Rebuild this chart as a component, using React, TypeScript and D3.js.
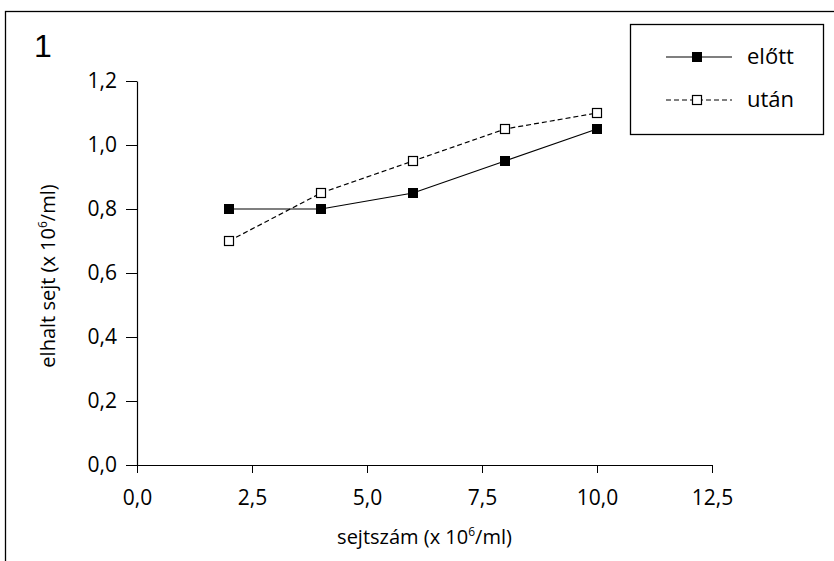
import React, { useEffect, useRef } from "react";
import * as d3 from "d3";

const xValues = [2, 4, 6, 8, 10];
const elottValues = [0.8, 0.8, 0.85, 0.95, 1.05];
const utanValues = [0.7, 0.85, 0.95, 1.05, 1.1];
const xTicks = [0, 2.5, 5, 7.5, 10, 12.5];
const yTicks = [0, 0.2, 0.4, 0.6, 0.8, 1.0, 1.2];
const seriesNames = ["előtt", "után"];

const W = 834;
const H = 561;
const FONT = "'Open Sans', 'Noto Sans', sans-serif";

export default function App() {
  const ref = useRef<SVGSVGElement>(null);
  useEffect(() => {
    const svg = d3.select(ref.current);
    svg.selectAll("*").remove();

    const x = d3.scaleLinear().domain([0, 12.5]).range([137, 712]);
    const y = d3.scaleLinear().domain([0, 1.2]).range([465, 81]);
    const fmt = (v: number) => d3.format(".1f")(v).replace(".", ",");

    // outer frame
    svg.append("rect").attr("x", 5.5).attr("y", 11.5).attr("width", 1000).attr("height", 1000)
      .attr("fill", "none").attr("stroke", "#000").attr("stroke-width", 1.3);

    svg.append("text").attr("x", 34).attr("y", 57).attr("font-size", 32)
      .attr("font-family", "'Liberation Sans', Arial, sans-serif").text("1");

    const xAxis = svg.append("g").attr("transform", `translate(0,${y(0)})`)
      .call(d3.axisBottom(x).tickValues(xTicks).tickFormat(fmt as any).tickSize(8).tickSizeOuter(0));
    const yAxis = svg.append("g").attr("transform", `translate(${x(0)},0)`)
      .call(d3.axisLeft(y).tickValues(yTicks).tickFormat(fmt as any).tickSize(11).tickSizeOuter(0));
    [xAxis, yAxis].forEach((g) => {
      g.select(".domain").attr("stroke", "#000").attr("stroke-width", 1.2);
      g.selectAll(".tick line").attr("stroke", "#000").attr("stroke-width", 1);
      g.selectAll(".tick text").attr("font-size", 21).attr("font-family", FONT).attr("fill", "#000");
    });
    xAxis.selectAll(".tick text").attr("y", 0).attr("dy", 40);
    yAxis.selectAll(".tick text").attr("dx", -6);

    // axis titles
    const xt = svg.append("text").attr("x", (x(0) + x(12.5)) / 2).attr("y", 544)
      .attr("text-anchor", "middle").attr("font-size", 20).attr("font-family", FONT);
    xt.append("tspan").text("sejtszám (x 10");
    xt.append("tspan").attr("font-size", 12).attr("dy", -8).text("6");
    xt.append("tspan").attr("dy", 8).text("/ml)");

    const yt = svg.append("text").attr("transform", `translate(55,${(y(0) + y(1.2)) / 2 + 3}) rotate(-90)`)
      .attr("text-anchor", "middle").attr("font-size", 20).attr("font-family", FONT);
    yt.append("tspan").text("elhalt sejt (x 10");
    yt.append("tspan").attr("font-size", 12).attr("dy", -8).text("6");
    yt.append("tspan").attr("dy", 8).text("/ml)");

    const line = d3.line<number>().x((_, i) => x(xValues[i])).y((d) => y(d));
    svg.append("path").datum(elottValues).attr("d", line as any).attr("fill", "none")
      .attr("stroke", "#000").attr("stroke-width", 1.2);
    svg.append("path").datum(utanValues).attr("d", line as any).attr("fill", "none")
      .attr("stroke", "#000").attr("stroke-width", 1.2).attr("stroke-dasharray", "5,3");

    const s = 10;
    svg.selectAll(".m1").data(elottValues).enter().append("rect")
      .attr("x", (_, i) => x(xValues[i]) - s / 2).attr("y", (d) => y(d) - s / 2)
      .attr("width", s).attr("height", s).attr("fill", "#000");
    svg.selectAll(".m2").data(utanValues).enter().append("rect")
      .attr("x", (_, i) => x(xValues[i]) - s / 2 + 0.5).attr("y", (d) => y(d) - s / 2 + 0.5)
      .attr("width", s - 1).attr("height", s - 1).attr("fill", "#fff").attr("stroke", "#000").attr("stroke-width", 1.2);

    // legend
    const lg = svg.append("g");
    lg.append("rect").attr("x", 630.5).attr("y", 24.5).attr("width", 193).attr("height", 110)
      .attr("fill", "#fff").attr("stroke", "#000").attr("stroke-width", 1.3);
    const rows = [57, 100];
    seriesNames.forEach((name, i) => {
      const yy = rows[i];
      lg.append("line").attr("x1", 666).attr("x2", 732).attr("y1", yy).attr("y2", yy)
        .attr("stroke", "#000").attr("stroke-width", 1.2)
        .attr("stroke-dasharray", i === 1 ? "5,3" : null);
      if (i === 0) {
        lg.append("rect").attr("x", 697 - s / 2).attr("y", yy - s / 2).attr("width", s).attr("height", s).attr("fill", "#000");
      } else {
        lg.append("rect").attr("x", 697 - s / 2 + 0.5).attr("y", yy - s / 2 + 0.5).attr("width", s - 1).attr("height", s - 1)
          .attr("fill", "#fff").attr("stroke", "#000").attr("stroke-width", 1.2);
      }
      lg.append("text").attr("x", 747).attr("y", yy + 7).attr("font-size", 22).attr("font-family", FONT).text(name);
    });
  }, []);
  return (
    <svg ref={ref} width={W} height={H} style={{ position: "absolute", left: 0, top: 0, background: "#fff" }} />
  );
}
